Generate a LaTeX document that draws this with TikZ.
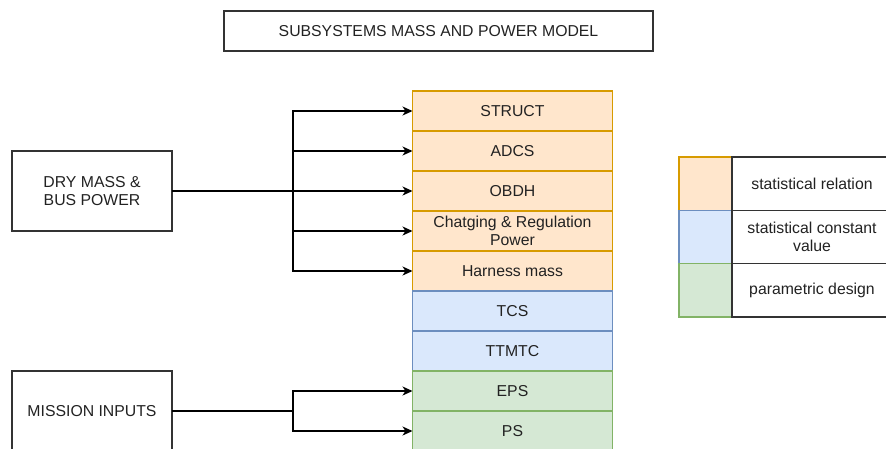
\documentclass[tikz,border=0pt]{standalone}
\usepackage{fontspec}
\setmainfont{Liberation Sans}
\usetikzlibrary{arrows.meta}
\definecolor{ofill}{HTML}{FFE6CC}\definecolor{odraw}{HTML}{D79B00}
\definecolor{bfill}{HTML}{DAE8FC}\definecolor{bdraw}{HTML}{6C8EBF}
\definecolor{gfill}{HTML}{D5E8D4}\definecolor{gdraw}{HTML}{82B366}
\definecolor{txt}{HTML}{222222}
\tikzset{
  base/.style={inner sep=0pt, outer sep=0pt, align=center, text=txt,
    font=\fontsize{15.8}{17.5}\selectfont, line width=1.3pt},
  plain/.style={base, draw=black!80, fill=white},
  cell/.style={base, minimum width=200pt, minimum height=40pt},
  ocell/.style={cell, draw=odraw, fill=ofill},
  bcell/.style={cell, draw=bdraw, fill=bfill},
  gcell/.style={cell, draw=gdraw, fill=gfill},
  inbox/.style={plain, minimum width=160pt, minimum height=80pt},
  lcol/.style={base, minimum width=53pt, minimum height=53.3pt},
  ltxt/.style={plain, minimum width=160pt, minimum height=53.3pt},
  arr/.style={line width=1.3pt, draw=black, -{Stealth[length=10pt,width=9pt,inset=3pt]}},
  wire/.style={line width=1.3pt, draw=black},
}
\begin{document}
\begin{tikzpicture}[x=1pt,y=-1pt]
\useasboundingbox (0,0) rectangle (886,448);
% title
\node[plain, minimum width=429pt, minimum height=40pt] (title) at (438.5,31) {SUBSYSTEMS MASS AND POWER MODEL};
% stack
\node[ocell] (struct) at (512.5,111) {STRUCT};
\node[ocell] (adcs) at (512.5,151) {ADCS};
\node[ocell] (obdh) at (512.5,191) {OBDH};
\node[ocell] (chg) at (512.5,231) {Chatging \& Regulation\\Power};
\node[ocell] (harn) at (512.5,271) {Harness mass};
\node[bcell] (tcs) at (512.5,311) {TCS};
\node[bcell] (ttmtc) at (512.5,351) {TTMTC};
\node[gcell] (eps) at (512.5,391) {EPS};
\node[gcell] (ps) at (512.5,431) {PS};
% input boxes
\node[inbox] (dry) at (92,191) {DRY MASS \&\\BUS POWER};
\node[inbox] (mis) at (92,411) {MISSION INPUTS};
% connectors
\coordinate (j1) at (293,191);
\coordinate (j2) at (293,411);
\draw[wire] (dry.east) -- (j1);
\draw[arr] (j1) |- (struct.west);
\draw[arr] (j1) |- (adcs.west);
\draw[arr] (j1) -- (obdh.west);
\draw[arr] (j1) |- (chg.west);
\draw[arr] (j1) |- (harn.west);
\draw[wire] (mis.east) -- (j2);
\draw[arr] (j2) |- (eps.west);
\draw[arr] (j2) |- (ps.west);
% legend
\node[lcol, draw=odraw, fill=ofill] (l1) at (705.5,183.7) {};
\node[lcol, draw=bdraw, fill=bfill] (l2) at (705.5,237) {};
\node[lcol, draw=gdraw, fill=gfill] (l3) at (705.5,290.3) {};
\node[ltxt, anchor=west] (t1) at (l1.east) {statistical relation};
\node[ltxt, anchor=west] (t2) at (l2.east) {statistical constant\\value};
\node[ltxt, anchor=west] (t3) at (l3.east) {parametric design};
\end{tikzpicture}
\end{document}
